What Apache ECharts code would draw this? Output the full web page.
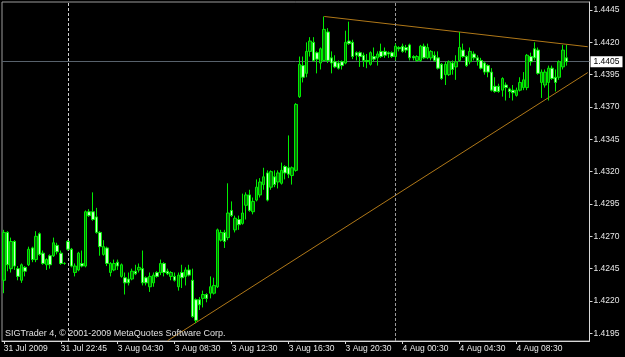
<!DOCTYPE html>
<html><head><meta charset="utf-8">
<script src="https://cdn.jsdelivr.net/npm/echarts@6/dist/echarts.min.js"></script>
<style>html,body{margin:0;padding:0;background:#000;}#c{width:625px;height:357px;}</style>
</head><body><div id="c"></div>
<script>
const tickLabels = ['31 Jul 2009','31 Jul 22:45','3 Aug 04:30','3 Aug 08:30','3 Aug 12:30','3 Aug 16:30','3 Aug 20:30','4 Aug 00:30','4 Aug 04:30','4 Aug 08:30'];
const priceTicks = [1.4195,1.4220,1.4245,1.4270,1.4295,1.4320,1.4345,1.4370,1.4395,1.4420,1.4445];
const slotCount = 165;

const opens = [
1.4236,1.4273,1.4245,1.4266,1.4245,1.4236,1.4246,1.4248,1.4261,1.4252,
1.4272,1.4257,1.4248,1.4255,1.4255,1.4263,1.4257,1.4249,1.4266,1.4260,
1.4242,1.4244,1.4249,1.4247,1.4289,1.4289,1.4285,1.4273,1.4256,1.4261,
1.4242,1.4244,1.4250,1.4239,1.4238,1.4237,1.4237,1.4243,1.4244,1.4245,
1.4238,1.4231,1.4234,1.4242,1.4242,1.4249,1.4243,1.4239,1.4239,1.4231,
1.4242,1.4239,1.4244,1.4236,1.4221,1.4221,1.4222,1.4225,1.4226,1.4226,
1.4231,1.4267,1.4273,1.4269,1.4290,1.4275,1.4283,1.4280,1.4294,1.4302,
1.4289,1.4298,1.4302,1.4310,1.4319,1.4308,1.4316,1.4312,1.4311,1.4324,
1.4323,1.4317,1.4321,1.4378,1.4402,1.4396,1.4413,1.4420,1.4412,1.4404,
1.4406,1.4428,1.4408,1.4405,1.4404,1.4405,1.4404,1.4421,1.4420,1.4412,
1.4412,1.4410,1.4406,1.4403,1.4409,1.4408,1.4413,1.4413,1.4412,1.4412,
1.4409,1.4416,1.4417,1.4416,1.4418,1.4409,1.4406,1.4406,1.4417,1.4408,
1.4408,1.4410,1.4408,1.4403,1.4395,1.4395,1.4404,1.4401,1.4406,1.4414,
1.4409,1.4405,1.4411,1.4408,1.4406,1.4404,1.4402,1.4397,1.4386,1.4386,
1.4383,1.4387,1.4384,1.4383,1.4379,1.4383,1.4385,1.4385,1.4409,1.4415,
1.4414,1.4389,1.4387,1.4389,1.4400,1.4393,1.4393,1.4401,1.4408];
const highs = [
1.4275,1.4274,1.4269,1.4267,1.4247,1.4249,1.4247,1.4262,1.4262,1.4274,
1.4273,1.4259,1.4253,1.4256,1.4269,1.4265,1.4259,1.4250,1.4267,1.4261,
1.4249,1.4258,1.4259,1.4290,1.4291,1.4304,1.4292,1.4274,1.4267,1.4262,
1.4250,1.4252,1.4252,1.4249,1.4242,1.4242,1.4245,1.4248,1.4249,1.4259,
1.4239,1.4242,1.4242,1.4243,1.4252,1.4250,1.4245,1.4243,1.4242,1.4242,
1.4248,1.4246,1.4248,1.4245,1.4222,1.4223,1.4228,1.4226,1.4239,1.4238,
1.4276,1.4275,1.4275,1.4311,1.4297,1.4286,1.4286,1.4303,1.4304,1.4306,
1.4300,1.4314,1.4315,1.4323,1.4321,1.4321,1.4321,1.4321,1.4327,1.4325,
1.4348,1.4324,1.4373,1.4409,1.4409,1.4420,1.4424,1.4424,1.4413,1.4416,
1.4440,1.4431,1.4413,1.4410,1.4406,1.4406,1.4429,1.4436,1.4422,1.4413,
1.4413,1.4412,1.4411,1.4413,1.4416,1.4413,1.4419,1.4416,1.4413,1.4413,
1.4419,1.4417,1.4419,1.4418,1.4419,1.4410,1.4410,1.4418,1.4419,1.4419,
1.4414,1.4413,1.4413,1.4404,1.4405,1.4406,1.4406,1.4410,1.4428,1.4419,
1.4410,1.4416,1.4413,1.4410,1.4408,1.4405,1.4403,1.4400,1.4393,1.4388,
1.4393,1.4389,1.4385,1.4387,1.4385,1.4393,1.4397,1.4411,1.4412,1.4420,
1.4416,1.4399,1.4399,1.4402,1.4402,1.4399,1.4406,1.4418,1.4418];
const lows = [
1.4226,1.4243,1.4242,1.4244,1.4236,1.4234,1.4239,1.4247,1.4250,1.4250,
1.4255,1.4248,1.4244,1.4245,1.4254,1.4256,1.4248,1.4248,1.4259,1.4246,
1.4239,1.4243,1.4246,1.4246,1.4285,1.4282,1.4272,1.4255,1.4255,1.4247,
1.4239,1.4243,1.4244,1.4238,1.4225,1.4232,1.4236,1.4240,1.4242,1.4232,
1.4232,1.4227,1.4231,1.4238,1.4240,1.4239,1.4240,1.4236,1.4235,1.4228,
1.4230,1.4232,1.4239,1.4207,1.4203,1.4213,1.4215,1.4219,1.4222,1.4225,
1.4230,1.4266,1.4261,1.4267,1.4285,1.4273,1.4275,1.4279,1.4283,1.4289,
1.4287,1.4297,1.4300,1.4306,1.4297,1.4306,1.4308,1.4307,1.4310,1.4314,
1.4315,1.4310,1.4320,1.4377,1.4389,1.4393,1.4409,1.4405,1.4396,1.4399,
1.4405,1.4404,1.4396,1.4400,1.4399,1.4399,1.4403,1.4418,1.4407,1.4406,
1.4401,1.4401,1.4400,1.4402,1.4405,1.4402,1.4408,1.4408,1.4408,1.4408,
1.4406,1.4413,1.4412,1.4412,1.4406,1.4406,1.4405,1.4405,1.4407,1.4407,
1.4406,1.4405,1.4399,1.4391,1.4387,1.4394,1.4395,1.4391,1.4405,1.4408,
1.4401,1.4403,1.4406,1.4402,1.4399,1.4395,1.4393,1.4382,1.4381,1.4381,
1.4378,1.4375,1.4377,1.4375,1.4378,1.4382,1.4383,1.4383,1.4402,1.4406,
1.4395,1.4377,1.4385,1.4375,1.4391,1.4382,1.4391,1.4399,1.4402];
const closes = [
1.4273,1.4248,1.4266,1.4247,1.4239,1.4248,1.4243,1.4260,1.4252,1.4270,
1.4256,1.4249,1.4252,1.4248,1.4265,1.4258,1.4249,1.4249,1.4260,1.4247,
1.4247,1.4257,1.4247,1.4289,1.4286,1.4283,1.4273,1.4262,1.4262,1.4249,
1.4249,1.4249,1.4247,1.4248,1.4234,1.4234,1.4243,1.4241,1.4246,1.4234,
1.4234,1.4239,1.4240,1.4239,1.4249,1.4242,1.4241,1.4242,1.4236,1.4240,
1.4238,1.4244,1.4240,1.4208,1.4205,1.4217,1.4225,1.4222,1.4231,1.4232,
1.4275,1.4273,1.4266,1.4288,1.4286,1.4284,1.4279,1.4288,1.4302,1.4290,
1.4297,1.4308,1.4312,1.4316,1.4298,1.4320,1.4310,1.4319,1.4321,1.4319,
1.4318,1.4323,1.4372,1.4403,1.4393,1.4413,1.4421,1.4406,1.4407,1.4415,
1.4430,1.4406,1.4404,1.4401,1.4400,1.4402,1.4420,1.4419,1.4409,1.4410,
1.4409,1.4406,1.4405,1.4412,1.4407,1.4411,1.4409,1.4410,1.4411,1.4409,
1.4417,1.4415,1.4413,1.4414,1.4408,1.4408,1.4409,1.4417,1.4408,1.4416,
1.4413,1.4406,1.4400,1.4392,1.4403,1.4405,1.4399,1.4405,1.4416,1.4409,
1.4402,1.4413,1.4408,1.4406,1.4400,1.4397,1.4397,1.4383,1.4382,1.4382,
1.4392,1.4385,1.4382,1.4381,1.4383,1.4389,1.4391,1.4410,1.4405,1.4408,
1.4396,1.4397,1.4397,1.4400,1.4392,1.4389,1.4405,1.4414,1.4405];

const upperTrend = [[90, 1.4440], [164, 1.44166]];
const lowerTrend = [[46, 1.41893], [164, 1.43966]];
const separators = ['18', '110'];
const copyright = 'SIGTrader 4, \u00A9 2001-2009 MetaQuotes Software Corp.';

const categories = Array.from({length: slotCount}, (_, i) => String(i));
const candles = opens.map((o, i) => [o, closes[i], lows[i], highs[i]]);
const lastPrice = closes[closes.length - 1];
const showTick = (i) => i % 16 === 0 && (i / 16) < tickLabels.length;
const FONT = 'Liberation Sans, Arial, sans-serif';

const chart = echarts.init(document.getElementById('c'), null, {renderer: 'canvas'});
chart.setOption({
  animation: false,
  backgroundColor: '#000000',
  grid: {left: 2, right: 35.5, top: 2, bottom: 16, show: true, borderColor: '#9c9c9c', borderWidth: 1, backgroundColor: '#000000'},
  xAxis: {
    type: 'category', data: categories, boundaryGap: true,
    axisLine: {show: true, lineStyle: {color: '#d8d8d8', width: 1}},
    axisTick: {show: true, alignWithLabel: true, length: 3, interval: showTick, lineStyle: {color: '#d8d8d8'}},
    axisLabel: {show: true, interval: showTick, align: 'left', margin: 3, color: '#e8e8e8', fontSize: 8.5, fontFamily: FONT,
      formatter: (v) => tickLabels[Math.round(Number(v) / 16)] || ''},
    splitLine: {show: false}
  },
  yAxis: {
    type: 'value', position: 'right', min: 1.418905, max: 1.445119,
    axisLine: {show: true, lineStyle: {color: '#d8d8d8', width: 1}},
    axisTick: {show: true, length: 3, customValues: priceTicks, lineStyle: {color: '#d8d8d8'}},
    axisLabel: {show: true, customValues: priceTicks, margin: 4, color: '#e8e8e8', fontSize: 8.5, fontFamily: FONT,
      formatter: (v) => Number(v).toFixed(4)},
    splitLine: {show: false}
  },
  graphic: [{
    type: 'text', left: 5, top: 329.5, silent: true, z: 100,
    style: {text: copyright, fill: '#e0e0e0', font: '9px ' + FONT}
  }],
  series: [
    {
      type: 'line', data: upperTrend, showSymbol: false, symbol: 'none', silent: true, z: 1,
      lineStyle: {color: '#b07818', width: 1},
      markLine: {
        silent: true, symbol: 'none', animation: false, precision: 6, z: 2,
        data: [
          {yAxis: lastPrice, lineStyle: {color: '#58626c', width: 1, type: 'solid'},
           label: {show: true, position: 'end', distance: 1, formatter: lastPrice.toFixed(4), color: '#000', backgroundColor: '#ffffff',
             padding: [1, 3, 1, 3], fontSize: 8.5, fontFamily: FONT}},
          {xAxis: separators[0], lineStyle: {color: '#d0d0d0', width: 1, type: [3, 2]}, label: {show: false}},
          {xAxis: separators[1], lineStyle: {color: '#9a9a9a', width: 1, type: [3, 2]}, label: {show: false}}
        ]
      }
    },
    {
      type: 'line', data: lowerTrend, showSymbol: false, symbol: 'none', silent: true, z: 1,
      lineStyle: {color: '#b07818', width: 1}
    },
    {
      type: 'candlestick', data: candles, barWidth: 3, z: 3,
      itemStyle: {color: '#087008', color0: '#c8ffc8', borderColor: '#00ee00', borderColor0: '#00ee00', borderWidth: 1}
    }
  ]
});
</script></body></html>
